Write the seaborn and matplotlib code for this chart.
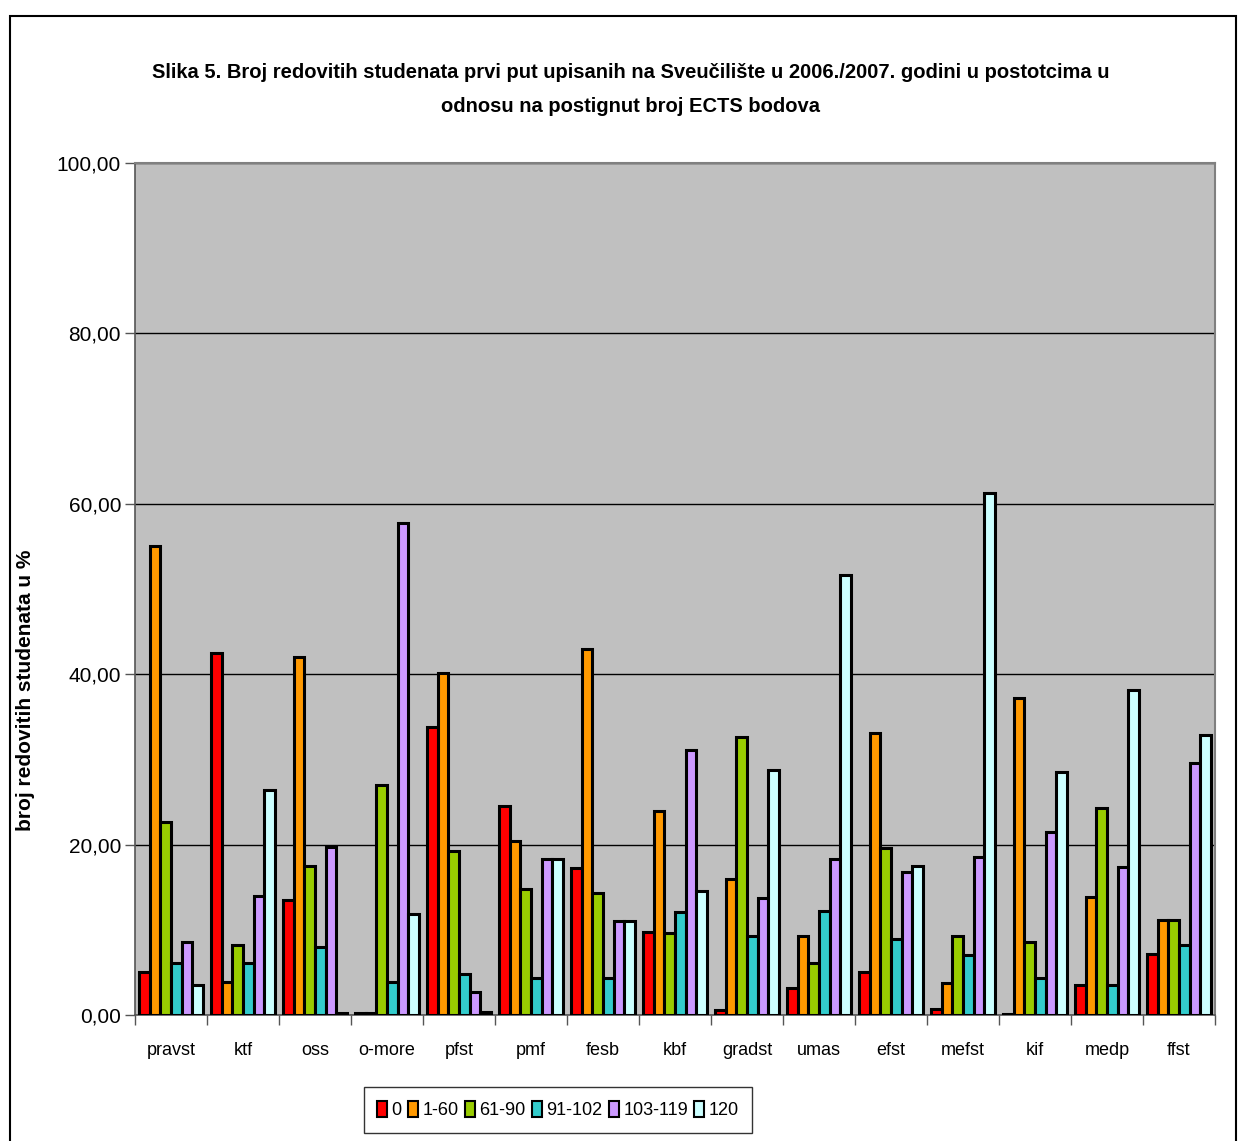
import matplotlib
matplotlib.use("Agg")
import matplotlib.pyplot as plt
import seaborn as sns
import pandas as pd
from matplotlib.patches import Rectangle, Patch
from matplotlib.ticker import FixedLocator, FuncFormatter

faculties = ["pravst", "ktf", "oss", "o-more", "pfst", "pmf", "fesb", "kbf",
             "gradst", "umas", "efst", "mefst", "kif", "medp", "ffst"]
groups = ["0", "1-60", "61-90", "91-102", "103-119", "120"]

v_0 =       [5.0, 42.5, 13.5, 0.2, 33.8, 24.5, 17.2, 9.7, 0.6, 3.2, 5.0, 0.7, 0.1, 3.5, 7.2]
v_1_60 =    [55.0, 3.9, 42.0, 0.2, 40.1, 20.4, 43.0, 24.0, 16.0, 9.3, 33.1, 3.8, 37.2, 13.9, 11.2]
v_61_90 =   [22.7, 8.2, 17.5, 27.0, 19.2, 14.8, 14.3, 9.6, 32.6, 6.1, 19.6, 9.3, 8.6, 24.3, 11.2]
v_91_102 =  [6.1, 6.1, 8.0, 3.9, 4.8, 4.4, 4.4, 12.1, 9.3, 12.2, 8.9, 7.0, 4.4, 3.5, 8.2]
v_103_119 = [8.6, 14.0, 19.7, 57.8, 2.7, 18.3, 11.0, 31.1, 13.7, 18.3, 16.8, 18.6, 21.5, 17.4, 29.6]
v_120 =     [3.5, 26.4, 0.2, 11.8, 0.4, 18.3, 11.0, 14.5, 28.7, 51.6, 17.5, 61.3, 28.5, 38.1, 32.9]

colors = ["#FF0000", "#FF9900", "#99CC00", "#33CCCC", "#CC99FF", "#CCFFFF"]

title = ("Slika 5. Broj redovitih studenata prvi put upisanih na Sveučilište u 2006./2007. godini u postotcima u\n"
         "odnosu na postignut broj ECTS bodova")
ylabel = "broj redovitih studenata u %"

series = [v_0, v_1_60, v_61_90, v_91_102, v_103_119, v_120]
rows = []
for g, vals in zip(groups, series):
    for f, v in zip(faculties, vals):
        rows.append({"fakultet": f, "bodovi": g, "postotak": v})
df = pd.DataFrame(rows)

sns.set_style("white")
fam = ["Liberation Sans Narrow", "Liberation Sans", "DejaVu Sans"]
plt.rcParams["font.family"] = fam
plt.rcParams["text.color"] = "black"
plt.rcParams["axes.labelcolor"] = "black"
plt.rcParams["xtick.color"] = "black"
plt.rcParams["ytick.color"] = "black"

fig = plt.figure(figsize=(12.39, 11.41), dpi=100)
ax = fig.add_axes([135/1239, 1 - 1015/1141, (1215-135)/1239, (1015-163)/1141])
ax.set_facecolor("#C0C0C0")

sns.barplot(data=df, x="fakultet", y="postotak", hue="bodovi", order=faculties,
            hue_order=groups, palette=colors, width=0.88, edgecolor="black",
            linewidth=2.2, saturation=1, ax=ax, legend=False, zorder=3)

ax.set_ylim(0, 100)
ax.set_xlim(-0.5, len(faculties) - 0.5)
ax.yaxis.set_major_locator(FixedLocator([0, 20, 40, 60, 80, 100]))
ax.yaxis.set_major_formatter(FuncFormatter(lambda v, p: f"{v:.2f}".replace(".", ",")))
ax.grid(axis="y", color="black", linewidth=1.0, zorder=1)
ax.set_axisbelow(True)
ax.tick_params(axis="y", which="major", left=True, length=7, width=1, color="#555555",
               labelsize=15, pad=3, labelcolor="black")
ax.tick_params(axis="x", which="major", bottom=False, labelsize=13, pad=16, labelcolor="black")
ax.xaxis.set_minor_locator(FixedLocator([i + 0.5 for i in range(-1, len(faculties))]))
ax.tick_params(axis="x", which="minor", bottom=True, length=7, width=1, color="#555555")
ax.set_xlabel("")
ax.set_ylabel(ylabel, fontsize=15, fontweight="bold", color="black")
ax.yaxis.set_label_coords((35 - 135) / 1080, (1015 - 690) / 852)

for side in ["top", "right"]:
    ax.spines[side].set_color("#808080")
    ax.spines[side].set_linewidth(1.5)
ax.spines["left"].set_color("#555555")
ax.spines["bottom"].set_color("#555555")
ax.spines["left"].set_linewidth(1.2)
ax.spines["bottom"].set_linewidth(1.2)

fig.text(0.509, 1 - 90/1141, title, ha="center", va="center", fontsize=14.5,
         fontweight="bold", linespacing=2.0, color="black")

handles = [Patch(facecolor=c, edgecolor="black", linewidth=1.5) for c in colors]
leg = fig.legend(handles, groups, loc="center", bbox_to_anchor=(558/1239, 1 - 1110/1141),
                 ncol=6, frameon=True, fontsize=13, handlelength=0.55, handleheight=0.95,
                 handletextpad=0.25, columnspacing=0.35, borderpad=0.75, fancybox=False)
leg.get_frame().set_edgecolor("black")
leg.get_frame().set_linewidth(1.0)

fig.patches.append(Rectangle((10/1239, -0.05), (1236-10)/1239, 1.05 - 16/1141,
                             transform=fig.transFigure, fill=False, edgecolor="black",
                             linewidth=1.5))

fig.savefig("out.png", dpi=100, facecolor="white")
